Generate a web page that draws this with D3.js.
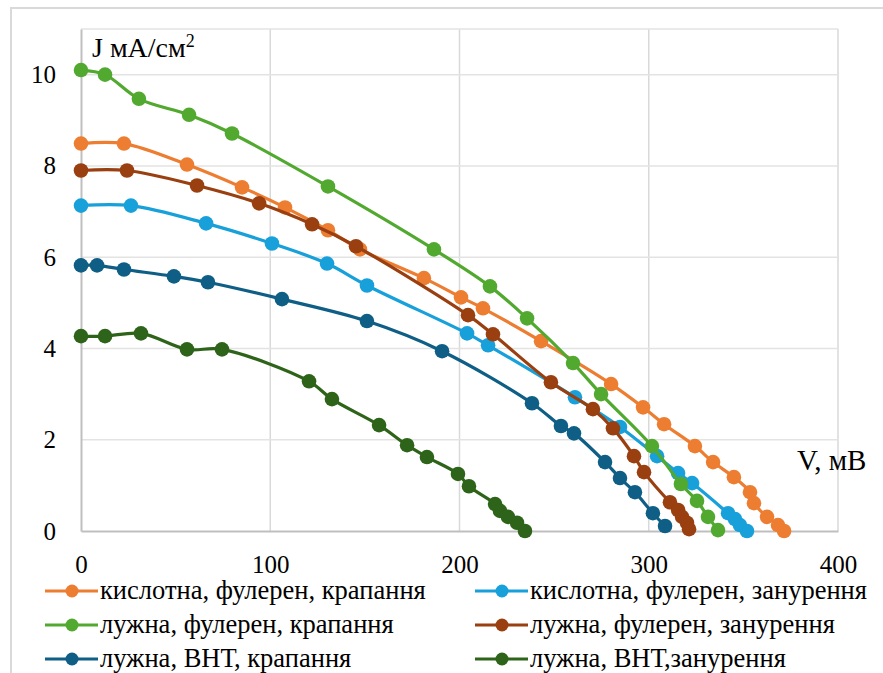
<!DOCTYPE html>
<html>
<head>
<meta charset="utf-8">
<script src="https://cdn.jsdelivr.net/npm/d3@7"></script>
<style>
  body { margin: 0; background: #fff; }
  svg text { font-family: "Liberation Serif", "Times New Roman", "DejaVu Serif", "Noto Serif", serif; }
</style>
</head>
<body>
<svg width="883" height="673"></svg>
<script>
// series names (legend order: left column, right column, row by row)
var names = [
  "кислотна, фулерен, крапання",
  "кислотна, фулерен, занурення",
  "лужна, фулерен, крапання",
  "лужна, фулерен, занурення",
  "лужна, ВНТ, крапання",
  "лужна, ВНТ,занурення"
];
var colors = ["#ED7D31", "#18A0DA", "#52A92F", "#9A3F10", "#0E5E85", "#2E6419"];

// V, мВ and J, мА/см2 for every series
var v1 = [0, 22.7, 56, 85.1, 107.8, 130.5, 147.4, 181.2, 200.8, 212.4, 243.1, 280.1, 297, 308.1, 324.4, 334, 345, 353.5, 355.6, 362.5, 368.3, 371.5];
var j1 = [8.49, 8.49, 8.03, 7.53, 7.09, 6.59, 6.17, 5.54, 5.12, 4.88, 4.16, 3.22, 2.71, 2.34, 1.86, 1.51, 1.18, 0.85, 0.61, 0.31, 0.13, 0];

var v2 = [0, 26.4, 66.1, 100.9, 130, 151.1, 204, 215.1, 261, 284.8, 304.4, 315.5, 322.9, 341.9, 345.6, 348.2, 351.9];
var j2 = [7.13, 7.13, 6.74, 6.3, 5.86, 5.38, 4.33, 4.07, 2.93, 2.28, 1.64, 1.27, 1.05, 0.39, 0.26, 0.13, 0];

var v3 = [0, 12.7, 30.6, 57.1, 79.8, 130.5, 186.5, 216.1, 235.7, 260, 274.8, 301.7, 317, 325.5, 331.3, 336.6];
var j3 = [10.1, 10.0, 9.47, 9.12, 8.71, 7.55, 6.17, 5.36, 4.66, 3.68, 3.0, 1.86, 1.03, 0.66, 0.31, 0.02];

var v4 = [0, 24.3, 61.3, 94.1, 122.1, 145.3, 204.5, 217.7, 248.3, 270.5, 281.1, 292.2, 297.5, 311.2, 315.5, 317.6, 320.2, 321.3];
var j4 = [7.9, 7.9, 7.57, 7.18, 6.72, 6.24, 4.73, 4.31, 3.26, 2.67, 2.25, 1.64, 1.29, 0.63, 0.46, 0.31, 0.18, 0.04];

var v5 = [0, 8.5, 22.7, 49.1, 67.1, 106.2, 151.1, 190.8, 238.3, 253.6, 260.5, 276.9, 284.8, 292.7, 302.2, 308.6];
var j5 = [5.82, 5.82, 5.73, 5.58, 5.45, 5.08, 4.6, 3.94, 2.8, 2.3, 2.14, 1.51, 1.16, 0.85, 0.39, 0.11];

var v6 = [0, 12.7, 31.7, 56, 74.5, 120.5, 132.6, 157.5, 172.3, 182.8, 199.2, 205, 218.8, 221.4, 225.6, 230.4, 234.6];
var j6 = [4.27, 4.27, 4.33, 3.98, 3.98, 3.28, 2.89, 2.32, 1.88, 1.62, 1.25, 0.98, 0.59, 0.44, 0.31, 0.18, 0];

var xTicks = [0, 100, 200, 300, 400];
var yTicks = [0, 2, 4, 6, 8, 10];

var allV = [v1, v2, v3, v4, v5, v6];
var allJ = [j1, j2, j3, j4, j5, j6];

var serif = "Liberation Serif, Times New Roman, DejaVu Serif, Noto Serif, serif";

var svg = d3.select("svg");

// outer chart frame
svg.append("rect")
    .attr("x", 11).attr("y", 8)
    .attr("width", 890).attr("height", 690)
    .attr("fill", "none")
    .attr("stroke", "#d9d9d9")
    .attr("stroke-width", 2);

var margin = {left: 81, top: 29, right: 838, bottom: 531};

var x = d3.scaleLinear().domain([0, 400]).range([margin.left, margin.right]);
var y = d3.scaleLinear().domain([0, 11]).range([margin.bottom, margin.top]);

// gridlines
var grid = svg.append("g");
grid.selectAll(".gx")
  .data(xTicks.slice(1))
  .enter().append("line")
    .attr("x1", function(d) { return x(d); }).attr("x2", function(d) { return x(d); })
    .attr("y1", margin.top).attr("y2", margin.bottom)
    .attr("stroke", "#d9d9d9").attr("stroke-width", 1.5);
grid.selectAll(".gy")
  .data(yTicks.slice(1).concat([11]))
  .enter().append("line")
    .attr("x1", margin.left).attr("x2", margin.right)
    .attr("y1", function(d) { return y(d); }).attr("y2", function(d) { return y(d); })
    .attr("stroke", "#e3e3e3").attr("stroke-width", 1.5);

// axes
var xAxis = svg.append("g")
    .attr("transform", "translate(0," + margin.bottom + ")")
    .call(d3.axisBottom(x).tickValues(xTicks).tickSize(0).tickPadding(24));
var yAxis = svg.append("g")
    .attr("transform", "translate(" + margin.left + ",0)")
    .call(d3.axisLeft(y).tickValues(yTicks).tickSize(0).tickPadding(25));

[xAxis, yAxis].forEach(function(a) {
  a.attr("font-family", serif).attr("font-size", 25);
  a.select(".domain").attr("stroke", "#bfbfbf").attr("stroke-width", 2);
  a.selectAll("text").attr("fill", "#000");
});

// axis titles
var jTitle = svg.append("text")
    .attr("x", 92).attr("y", 57)
    .attr("font-family", serif)
    .attr("font-size", 28)
    .text("J мА/см");
jTitle.append("tspan").attr("dy", -10).attr("font-size", 18).text("2");

svg.append("text")
    .attr("x", 797).attr("y", 470)
    .attr("font-family", serif)
    .attr("font-size", 29)
    .text("V, мВ");

// series
var line = d3.line()
    .x(function(d) { return x(d[0]); })
    .y(function(d) { return y(d[1]); })
    .curve(d3.curveCatmullRom.alpha(0.5));

allV.forEach(function(vs, i) {
  var pts = d3.zip(vs, allJ[i]);
  var g = svg.append("g");
  g.append("path")
      .datum(pts)
      .attr("d", line)
      .attr("fill", "none")
      .attr("stroke", colors[i])
      .attr("stroke-width", 3.2);
  g.selectAll("circle")
    .data(pts)
    .enter().append("circle")
      .attr("cx", function(d) { return x(d[0]); })
      .attr("cy", function(d) { return y(d[1]); })
      .attr("r", 7.3)
      .attr("fill", colors[i]);
});

// legend, two columns
var legendRowY = [591, 625, 659];
var legendColX = [45, 475];
var legend = svg.selectAll(".legend")
  .data(names)
  .enter().append("g")
    .attr("class", "legend")
    .attr("transform", function(d, i) {
      return "translate(" + legendColX[i % 2] + "," + legendRowY[Math.floor(i / 2)] + ")";
    });
legend.append("line")
    .attr("x1", 0).attr("x2", 53)
    .attr("stroke", function(d, i) { return colors[i]; })
    .attr("stroke-width", 3.2);
legend.append("circle")
    .attr("cx", 27).attr("r", 6.5)
    .attr("fill", function(d, i) { return colors[i]; });
legend.append("text")
    .attr("x", 55).attr("dy", "0.32em")
    .attr("font-family", serif)
    .attr("font-size", 26.5)
    .text(function(d) { return d; });
</script>
</body>
</html>
